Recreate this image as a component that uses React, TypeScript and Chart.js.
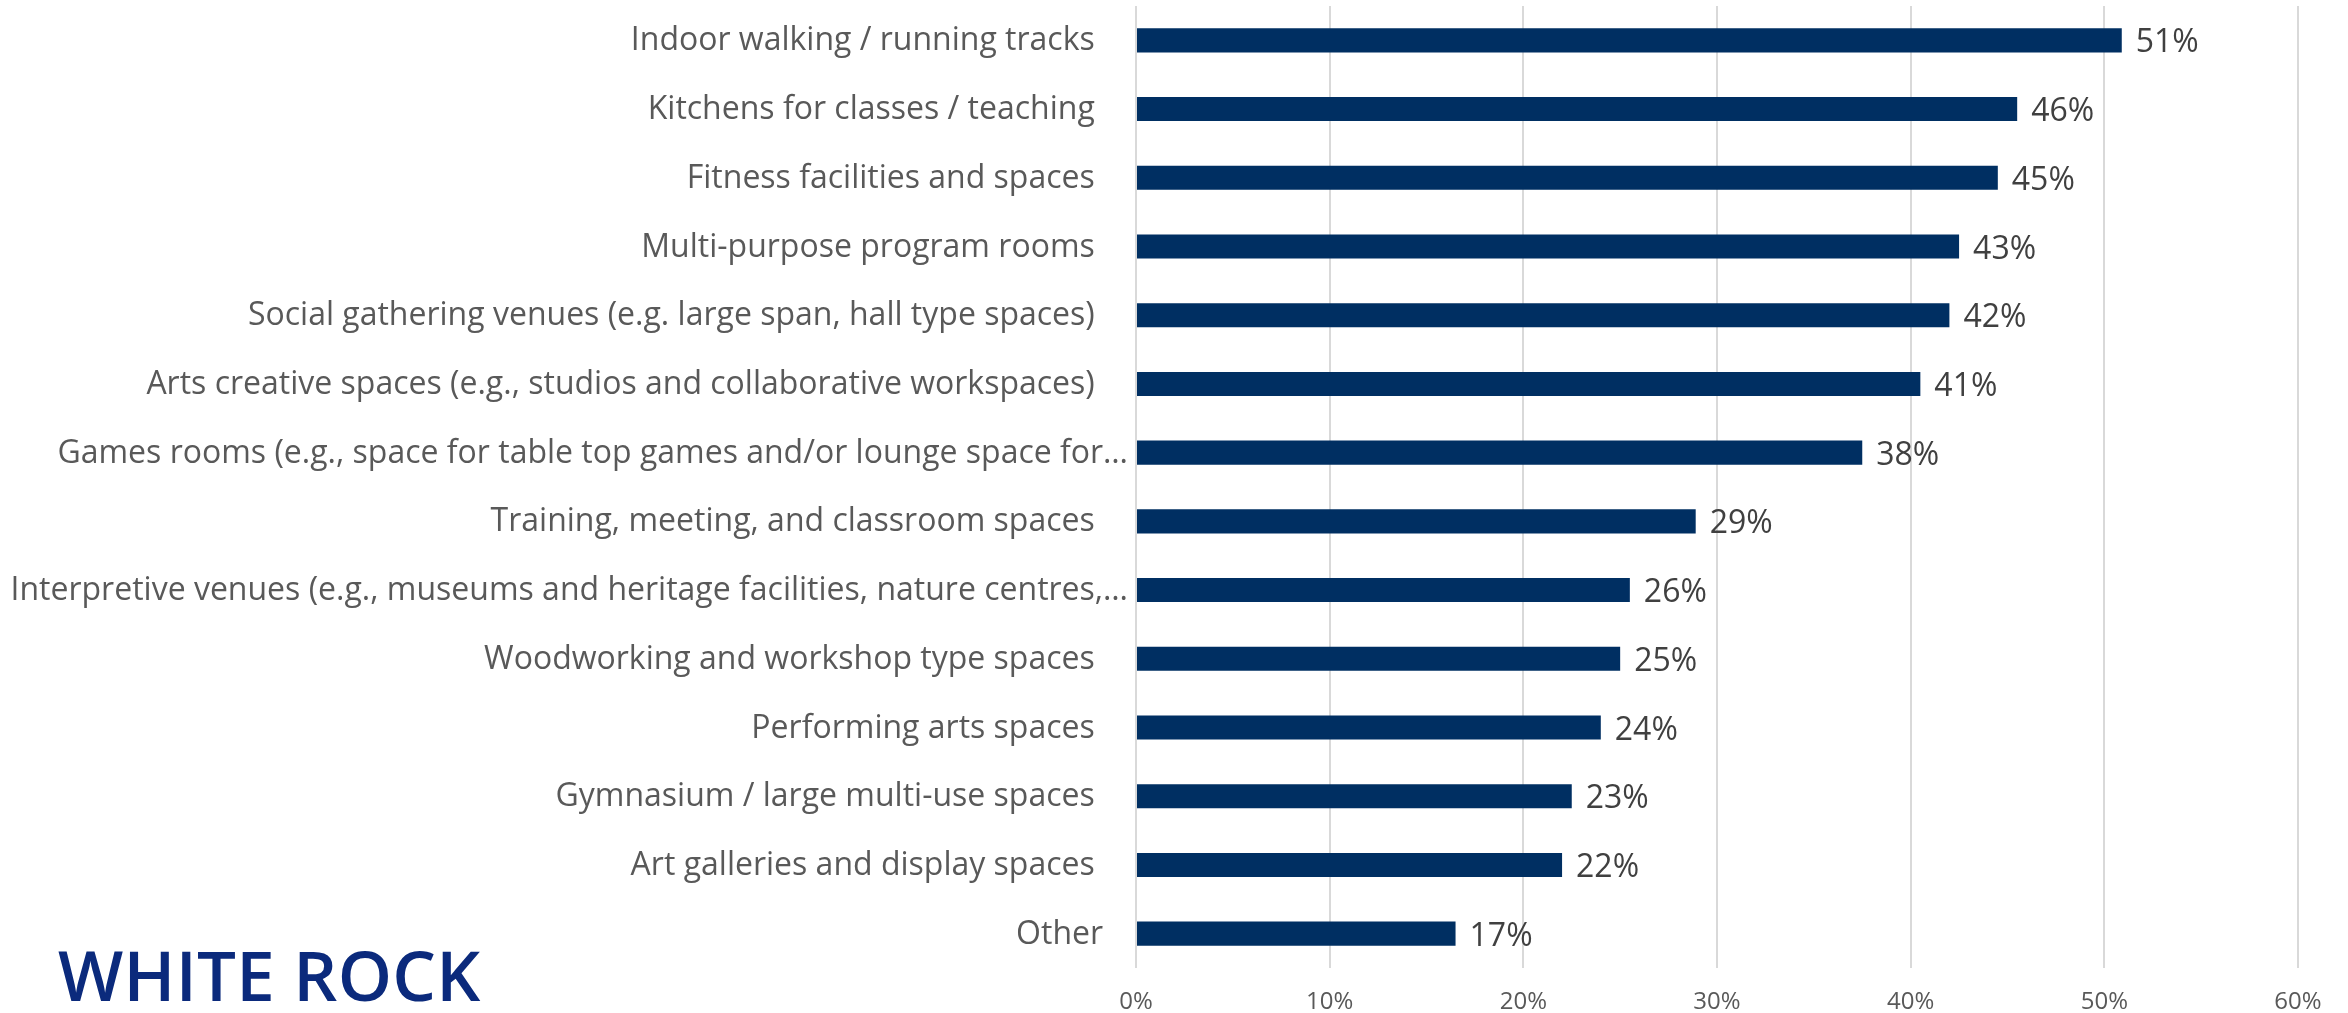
import React, { useEffect, useRef } from "react";
import { Chart, registerables } from "chart.js";

Chart.register(...registerables);

const categories: string[] = [
  "Indoor walking / running tracks    ",
  "Kitchens for classes / teaching    ",
  "Fitness facilities and spaces    ",
  "Multi-purpose program rooms    ",
  "Social gathering venues (e.g. large span, hall type spaces)    ",
  "Arts creative spaces (e.g., studios and collaborative workspaces)    ",
  "Games rooms (e.g., space for table top games and/or lounge space for…",
  "Training, meeting, and classroom spaces    ",
  "Interpretive venues (e.g., museums and heritage facilities, nature centres,…",
  "Woodworking and workshop type spaces    ",
  "Performing arts spaces    ",
  "Gymnasium / large multi-use spaces    ",
  "Art galleries and display spaces    ",
  "Other   ",
];

const values: number[] = [50.9, 45.5, 44.5, 42.5, 42.0, 40.5, 37.5, 28.9, 25.5, 25.0, 24.0, 22.5, 22.0, 16.5];

const xTickValues: number[] = [0, 10, 20, 30, 40, 50, 60];

const BAR_COLOR = "#002F62";
const FONT = "'Open Sans', 'Noto Sans', sans-serif";

const valueLabelPlugin = {
  id: "valueLabels",
  afterDatasetsDraw(chart: any) {
    const ctx = chart.ctx;
    const meta = chart.getDatasetMeta(0);
    ctx.save();
    ctx.font = `32px ${FONT}`;
    ctx.fillStyle = "#404040";
    ctx.textAlign = "left";
    ctx.textBaseline = "middle";
    meta.data.forEach((bar: any, i: number) => {
      ctx.fillText(Math.round(values[i]) + "%", bar.x + 14, bar.y + 3);
    });
    ctx.restore();
  },
};

export default function App() {
  const canvasRef = useRef<HTMLCanvasElement | null>(null);

  useEffect(() => {
    if (!canvasRef.current) return;
    const chart = new Chart(canvasRef.current, {
      type: "bar",
      data: {
        labels: categories,
        datasets: [
          {
            data: values,
            backgroundColor: BAR_COLOR,
            borderWidth: 0,
            barPercentage: 0.35,
            categoryPercentage: 1,
          },
        ],
      },
      options: {
        indexAxis: "y",
        animation: false,
        responsive: true,
        maintainAspectRatio: false,
        layout: { padding: { top: 6, right: 50, left: 0, bottom: 0 } },
        plugins: {
          legend: { display: false },
          tooltip: { enabled: false },
        },
        scales: {
          x: {
            min: 0,
            max: 60,
            afterBuildTicks: (scale: any) => {
              scale.ticks = xTickValues.map((v) => ({ value: v }));
            },
            afterFit: (scale: any) => {
              scale.height = 45;
              scale.paddingLeft = 0;
              scale.paddingRight = 0;
            },
            grid: { color: "#D9D9D9", lineWidth: 2, drawTicks: false },
            border: { display: false },
            ticks: {
              padding: 20,
              color: "#595959",
              font: { family: FONT, size: 24 },
              callback: (v: any) => v + "%",
            },
          },
          y: {
            afterFit: (scale: any) => {
              scale.width = 1136;
              scale.paddingTop = 0;
              scale.paddingBottom = 0;
            },
            grid: { display: false, drawTicks: false },
            border: { display: false },
            ticks: {
              padding: 8,
              color: "#595959",
              font: { family: FONT, size: 32 },
              autoSkip: false,
              labelOffset: 1,
            },
          },
        },
      },
      plugins: [valueLabelPlugin],
    });
    return () => chart.destroy();
  }, []);

  return (
    <div
      style={{
        position: "fixed",
        left: 0,
        top: 0,
        width: 2348,
        height: 1013,
        background: "#ffffff",
        overflow: "hidden",
      }}
    >
      <canvas ref={canvasRef} style={{ width: "100%", height: "100%" }} />
      <div
        style={{
          position: "absolute",
          left: 58,
          top: 940,
          fontFamily: FONT,
          fontWeight: 600,
          fontSize: 69,
          lineHeight: 1,
          color: "#0B2A7C",
          whiteSpace: "nowrap",
          letterSpacing: 0.3,
        }}
      >
        WHITE ROCK
      </div>
    </div>
  );
}
